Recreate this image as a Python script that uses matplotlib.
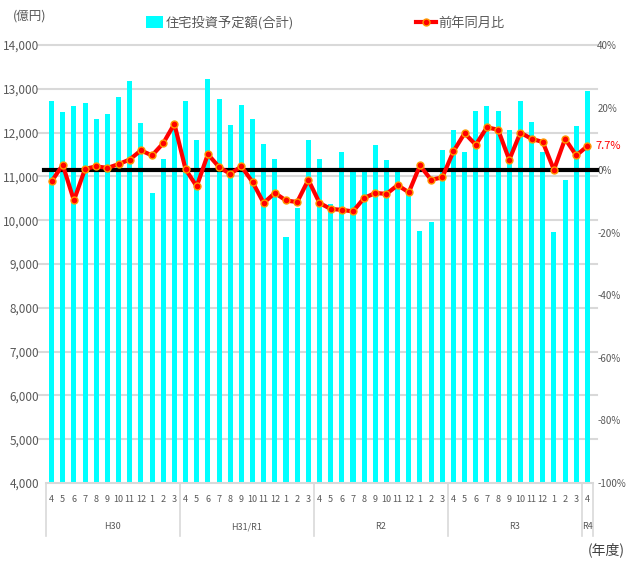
import matplotlib.pyplot as plt
import matplotlib.transforms as mtransforms
import numpy as np

months = [4, 5, 6, 7, 8, 9, 10, 11, 12, 1, 2, 3] * 4 + [4]
years = ['H30', 'H31/R1', 'R2', 'R3', 'R4']
year_len = [12, 12, 12, 12, 1]

# 住宅投資予定額(合計) 億円
amount = [12730, 12480, 12610, 12680, 12320, 12430, 12820, 13180, 12230, 10610, 11390, 12210,
          12730, 11840, 13230, 12770, 12180, 12640, 12320, 11750, 11390, 9610, 10270, 11840,
          11390, 10370, 11550, 11090, 11100, 11710, 11380, 11190, 10580, 9760, 9950, 11600,
          12050, 11550, 12500, 12610, 12500, 12070, 12730, 12250, 11550, 9730, 10910, 12160,
          12960]
# 前年同月比 %
yoy = [-3.6, 1.7, -9.7, 0.4, 1.2, 0.7, 1.9, 3.4, 6.3, 4.7, 8.6, 14.8,
       0.3, -5.2, 5.1, 1.0, -1.2, 1.2, -3.8, -10.5, -7.3, -9.7, -10.2, -3.1,
       -10.5, -12.4, -12.7, -13.2, -8.9, -7.3, -7.6, -4.8, -7.1, 1.5, -3.1, -2.3,
       6.0, 11.8, 8.1, 13.7, 12.9, 3.3, 12.0, 10.0, 9.0, 0.1, 10.0, 4.7, 7.7]

plt.rcParams['font.family'] = ['Noto Sans CJK JP', 'DejaVu Sans']
grey = '#595959'

fig = plt.figure(figsize=(6.27, 5.63), dpi=100)
ax = fig.add_axes([46 / 627, 80 / 563, 547 / 627, 438 / 563])
ax2 = ax.twinx()

x = np.arange(len(amount))
bars = ax.bar(x, amount, width=0.45, color='#00ffff', zorder=2)
ax.set_xlim(-0.5, len(amount) - 0.5)
ax.set_ylim(4000, 14000)
ax.set_yticks(np.arange(4000, 14001, 1000))
ax.set_yticklabels([f'{v:,}' for v in range(4000, 14001, 1000)], fontsize=8.5, color=grey)

# grid lines (slightly wider than plot area)
for v in range(5000, 14001, 1000):
    ax.axhline(v, xmin=-0.015, xmax=1.007, color='#d9d9d9', lw=1.5, zorder=0, clip_on=False)

ax.set_xticks(x)
ax.set_xticklabels([str(m) for m in months], fontsize=6.5, color=grey)
ax.tick_params(axis='x', length=0, pad=9)
ax.tick_params(axis='y', length=0, pad=5)

for s in ['top', 'left', 'right']:
    ax.spines[s].set_visible(False)
    ax2.spines[s].set_visible(False)
ax.spines['bottom'].set_color('#d9d9d9')
ax.spines['bottom'].set_linewidth(1.5)
ax2.spines['bottom'].set_visible(False)

# year groups under the months
trans = mtransforms.blended_transform_factory(ax.transData, ax.transAxes)
start = -0.5
bounds = [start]
for y_lab, n in zip(years, year_len):
    ax.text(start + n / 2, -0.1, y_lab, transform=trans, ha='center', va='center',
            fontsize=6.5, color=grey)
    start += n
    bounds.append(start)
for b in bounds:
    ax.plot([b, b], [0, -0.121], transform=trans, color='#d9d9d9', lw=1.2, clip_on=False)

# 前年同月比 line
line, = ax2.plot(x, yoy, color='red', lw=3, marker='o', markersize=5,
                 markerfacecolor='red', markeredgecolor='#ff9900', markeredgewidth=1, zorder=4)
ax2.axhline(0, xmin=-0.004, xmax=1.007, color='black', lw=3, zorder=3, clip_on=False)
ax2.set_ylim(-100, 40)
ax2.set_yticks(np.arange(-100, 41, 20))
ax2.set_yticklabels([f'{v}%' for v in range(-100, 41, 20)], fontsize=7, color=grey)
ax2.tick_params(axis='y', length=0, pad=3)

ax2.annotate(f'{yoy[-1]}%', xy=(x[-1], yoy[-1]), xytext=(6, 0), textcoords='offset points',
             color='red', fontsize=8, va='center', ha='left')

fig.text(30 / 627, 1 - 16 / 563, '(億円)', fontsize=9, color=grey, ha='center', va='center')
fig.text(606 / 627, 1 - 550 / 563, '(年度)', fontsize=10, color='#404040', ha='center', va='center')

fig.legend([bars], ['住宅投資予定額(合計)'], loc='center left',
           bbox_to_anchor=(146 / 627, 1 - 23 / 563), frameon=False, fontsize=9.5,
           labelcolor=grey, handlelength=1.3, handletextpad=0.2, handleheight=1.0,
           borderpad=0, borderaxespad=0)
fig.legend([line], ['前年同月比'], loc='center left',
           bbox_to_anchor=(416 / 627, 1 - 23 / 563), frameon=False, fontsize=9.5,
           labelcolor=grey, handlelength=1.5, handletextpad=0.2,
           borderpad=0, borderaxespad=0)

fig.savefig('out.png', dpi=100)
